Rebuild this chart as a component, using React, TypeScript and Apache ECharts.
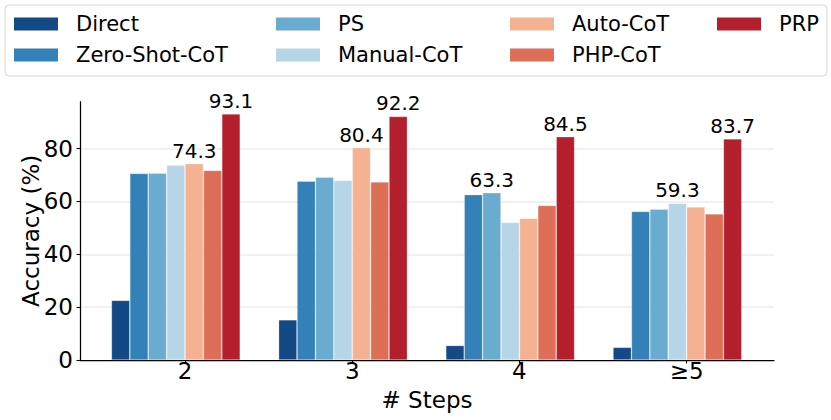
import React, { useEffect, useRef } from "react";
import * as echarts from "echarts";

const categories = ["2", "3", "4", "≥5"];
const seriesNames = ["Direct", "Zero-Shot-CoT", "PS", "Manual-CoT", "Auto-CoT", "PHP-CoT", "PRP"];
const direct = [22.6, 15.2, 5.5, 4.8];
const zeroShot = [70.6, 67.7, 62.6, 56.2];
const ps = [70.7, 69.2, 63.3, 57.1];
const manual = [73.7, 68.0, 52.1, 59.3];
const autoCot = [74.3, 80.4, 53.6, 57.9];
const phpCot = [71.8, 67.4, 58.5, 55.3];
const prp = [93.1, 92.2, 84.5, 83.7];
const colors = ["#134a85", "#3480b9", "#6aacd0", "#b6d6e8", "#f5b293", "#dd6f58", "#b41f2e"];
const yTicks = [0, 20, 40, 60, 80];
const legendColumns = [["Direct", "Zero-Shot-CoT"], ["PS", "Manual-CoT"], ["Auto-CoT", "PHP-CoT"], ["PRP"]];

const FONT = "DejaVu Sans";
const BAR_W = 18.4;
const SLOTS = 8; // 7 methods + one empty slot, as in the source layout

export default function App() {
  const ref = useRef<HTMLDivElement>(null);
  useEffect(() => {
    const chart = echarts.init(ref.current!, null, { renderer: "svg" });
    const all = [direct, zeroShot, ps, manual, autoCot, phpCot, prp];
    const baselines = all.slice(0, 6);
    const bestIdx = categories.map((_, c) => {
      let b = 0;
      baselines.forEach((arr, i) => {
        if (arr[c] > baselines[b][c]) b = i;
      });
      return b;
    });
    const yMax = 97.76;
    const series: any[] = all.map((arr, si) => ({
      name: seriesNames[si],
      type: "bar",
      xAxisIndex: 1,
      yAxisIndex: 1,
      barWidth: BAR_W,
      barGap: "0%",
      itemStyle: { color: colors[si], borderColor: "rgba(255,255,255,0.35)", borderWidth: 0.7 },
      data: arr,
    }));
    series.push({
      name: "_spacer",
      type: "bar",
      xAxisIndex: 1,
      yAxisIndex: 1,
      barWidth: BAR_W,
      barGap: "0%",
      data: categories.map(() => "-"),
    });
    // value labels (best baseline and PRP per category): [category index, value, slot]
    const labelData: number[][] = [];
    categories.forEach((_, c) => {
      [bestIdx[c], 6].forEach((si) => labelData.push([c, all[si][c], si]));
    });
    series.push({
      name: "_labels",
      type: "custom",
      xAxisIndex: 1,
      yAxisIndex: 1,
      silent: true,
      z: 5,
      data: labelData,
      renderItem: (_params: any, api: any) => {
        const pt = api.coord([api.value(0), api.value(1)]);
        const slot = api.value(2);
        return {
          type: "text",
          x: pt[0] + (slot - (SLOTS - 1) / 2) * BAR_W,
          y: pt[1] - 3,
          style: {
            text: Number(api.value(1)).toFixed(1),
            fill: "#000",
            fontFamily: FONT,
            fontSize: 20,
            align: "center",
            verticalAlign: "bottom",
          },
        };
      },
    });
    const legendLefts = [14, 276, 510, 717];
    chart.setOption({
      animation: false,
      textStyle: { fontFamily: FONT },
      legend: legendColumns.map((cols, i) => ({
        data: cols,
        orient: "vertical",
        left: legendLefts[i],
        top: 13.5,
        padding: 0,
        itemWidth: 44,
        itemHeight: 13,
        itemGap: 10,
        icon: "rect",
        selectedMode: false,
        itemStyle: { borderWidth: 0 },
        textStyle: {
          fontFamily: FONT,
          fontSize: 21,
          lineHeight: 21,
          color: "#000",
          padding: [0, 0, 0, 13],
        },
      })),
      graphic: [
        {
          type: "rect",
          shape: { x: 5, y: 5, width: 822, height: 71, r: 4 },
          style: { fill: "none", stroke: "#d6d6d6", lineWidth: 1 },
          silent: true,
        },
      ],
      grid: [
        { left: 80, right: 57, top: 101.7, bottom: 60, show: false, borderWidth: 0 },
        { left: 101.4, right: 60.8, top: 101.7, bottom: 60, show: false, borderWidth: 0 },
      ],
      xAxis: [
        {
          gridIndex: 0,
          type: "category",
          data: [""],
          boundaryGap: false,
          axisLine: { show: true, lineStyle: { color: "#000", width: 1.25 } },
          axisTick: { show: false },
          axisLabel: { show: false },
          splitLine: { show: false },
          name: "# Steps",
          nameLocation: "middle",
          nameGap: 28,
          nameMoveOverlap: false,
          nameTextStyle: { fontFamily: FONT, fontSize: 23, color: "#000" },
        },
        {
          gridIndex: 1,
          type: "category",
          data: categories,
          axisLine: { show: false },
          axisTick: { show: true, alignWithLabel: true, length: 3.5, lineStyle: { color: "#000", width: 1.1 } },
          axisLabel: { fontFamily: FONT, fontSize: 23, color: "#000", margin: -1 },
          splitLine: { show: false },
        },
      ],
      yAxis: [
        {
          gridIndex: 0,
          type: "value",
          min: 0,
          max: yMax,
          interval: 20,
          axisLine: { show: true, lineStyle: { color: "#000", width: 1.25 } },
          axisTick: { show: true, length: 3.5, lineStyle: { color: "#000", width: 1.1 }, customValues: yTicks },
          axisLabel: {
            fontFamily: FONT,
            fontSize: 23,
            color: "#000",
            margin: 7,
            customValues: yTicks,
          },
          splitLine: { show: true, showMinLine: false, lineStyle: { color: "#ececec", width: 1.5 } },
          name: "Accuracy (%)",
          nameLocation: "middle",
          nameGap: 38,
          nameMoveOverlap: false,
          nameTextStyle: { fontFamily: FONT, fontSize: 23, color: "#000" },
        },
        {
          gridIndex: 1,
          type: "value",
          min: 0,
          max: yMax,
          show: false,
          splitLine: { show: false },
        },
      ],
      series,
    });
    return () => chart.dispose();
  }, []);
  return (
    <div
      ref={ref}
      style={{ position: "fixed", left: 0, top: 0, width: 831, height: 420, background: "#fff" }}
    />
  );
}
